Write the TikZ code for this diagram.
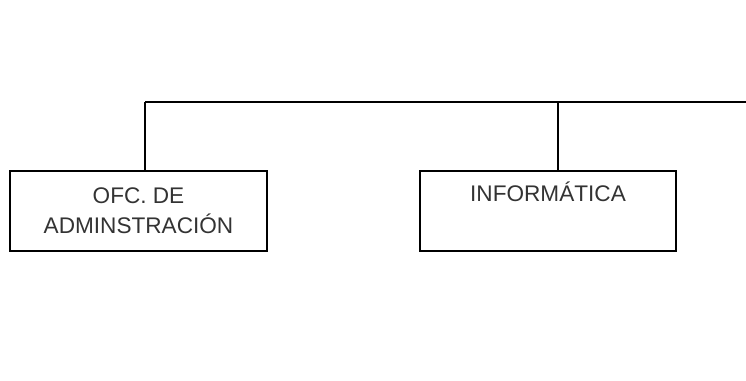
\documentclass[tikz,border=0pt]{standalone}
\usepackage{fontspec}
\setmainfont{Liberation Sans}
\usetikzlibrary{
	positioning,
}
\tikzset{unit/.style={
		% The shape:
		rectangle,
		% The size:
		minimum width=257pt,minimum height=80pt,
		% The border:
		line width=2.8pt,draw=black,
		% The text:
		text=black!80,align=center,
		font=\fontsize{22.6}{30}\selectfont,
}}
\tikzset{link/.style={
		line width=2.8pt,black,
}}

\begin{document}
\begin{tikzpicture}[x=1pt,y=1pt]
	\useasboundingbox (0,0) rectangle (746,380);
	\node (ofc) [unit] at (138.5,169) {OFC. DE\\ADMINSTRACIÓN};
	\node (inf) [unit, right=150.2pt of ofc, minimum width=256pt] {INFORMÁTICA\\\strut};
	% the bus and its drops
	\coordinate (bus1) at (145,278);
	\coordinate (bus2) at (558,278);
	\coordinate (busend) at (747,278);
	\draw [link] (bus1) -- (busend);
	\draw [link] (bus1) -- (bus1 |- ofc.north);
	\draw [link] (bus2) -- (bus2 |- inf.north);
\end{tikzpicture}
\end{document}
